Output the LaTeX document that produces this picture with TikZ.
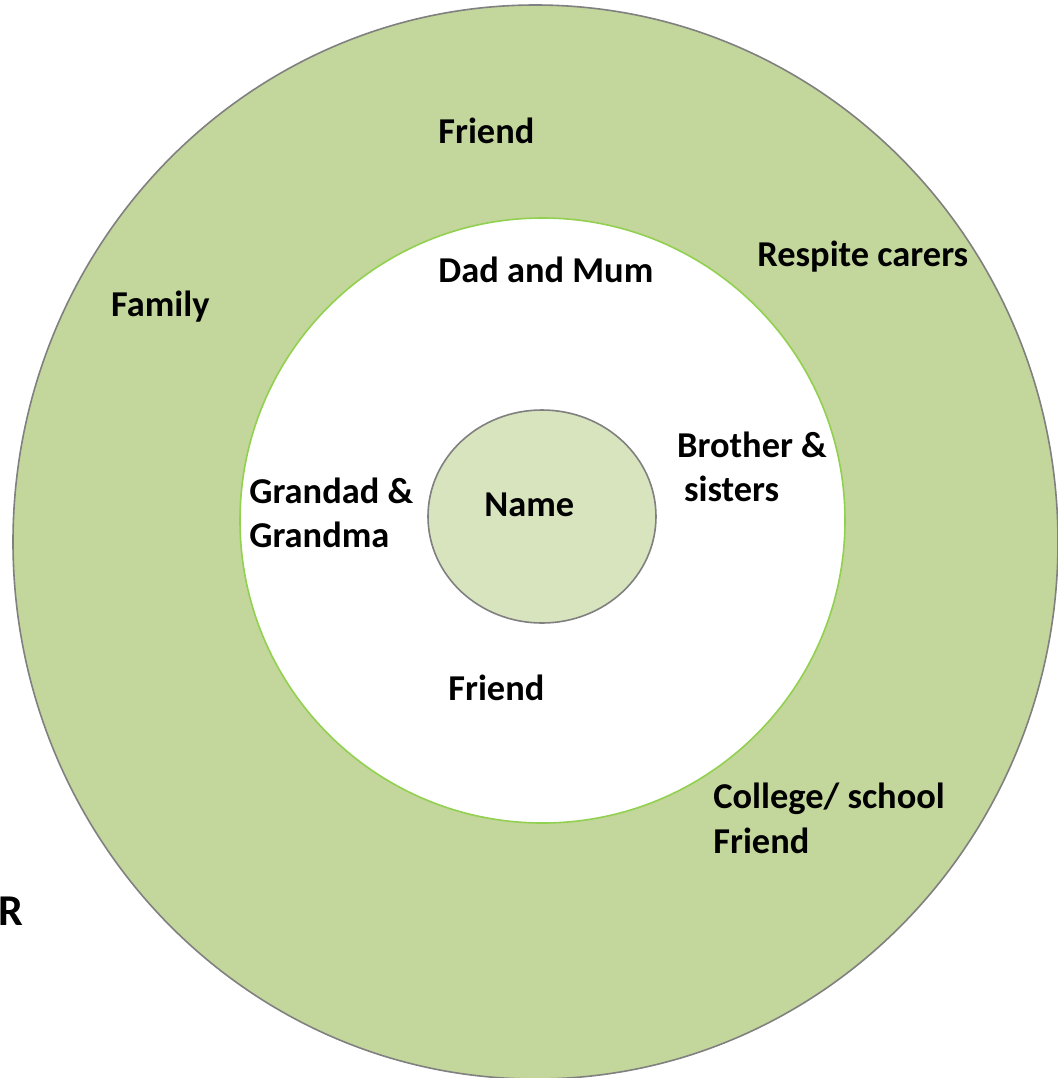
\documentclass[tikz,border=0pt]{standalone}
\usepackage{fontspec}
\setmainfont{Carlito}
\usepackage{tikz}
\usetikzlibrary{positioning}
\definecolor{ringgreen}{HTML}{C3D69B}
\definecolor{ringline}{HTML}{808080}
\definecolor{innerline}{HTML}{92D050}
\definecolor{namegreen}{HTML}{D7E4BD}

\begin{document}
\begin{tikzpicture}[x=0.5pt,y=-0.5pt,
    lbl/.style={anchor=base west, inner sep=0pt, align=left,
      font=\fontsize{18.2}{22.2}\selectfont\bfseries}]
        % Fix the page size
        \useasboundingbox (0,0) rectangle (1057,1078);
        % Define centres
        \coordinate (O) at (535.5,542);
        \coordinate (I) at (542.5,520.5);
        \coordinate (N) at (542,516.5);
        % Outer ring
        \filldraw[fill=ringgreen, draw=ringline, thick] (O) ellipse [x radius=522.5, y radius=537];
        % Inner circle
        \filldraw[fill=white, draw=innerline, thick] (I) circle [radius=302.5];
        % Name circle
        \filldraw[fill=namegreen, draw=ringline, thick] (N) ellipse [x radius=114, y radius=106.5];
        % Labels in the outer ring (two-line nodes sit on their last line)
        \node[lbl] (friendA) at (438,143.3) {Friend};
        \node[lbl] (respite) at (757,266.7) {Respite carers};
        \node[lbl] (family) at (110.7,316.7) {Family};
        \node[lbl] (college) at (713,853) {College/ school\\Friend};
        % Labels in the inner circle
        \node[lbl] (parents) at (438,282.7) {Dad and Mum};
        \node[lbl] (grand) at (249,547.7) {Grandad \&\\Grandma};
        \node[lbl] (siblings) at (676.7,501.7) {Brother \&\\\hspace{3.5pt}sisters};
        \node[lbl] (friendB) at (448,700) {Friend};
        % Centre
        \node[lbl] (name) at (484,516.7) {Name};
        % Stray letter at the left edge
        \node[lbl, font=\fontsize{22}{26}\selectfont\bfseries] (stray) at (-2,925) {R};
\end{tikzpicture}
\end{document}
